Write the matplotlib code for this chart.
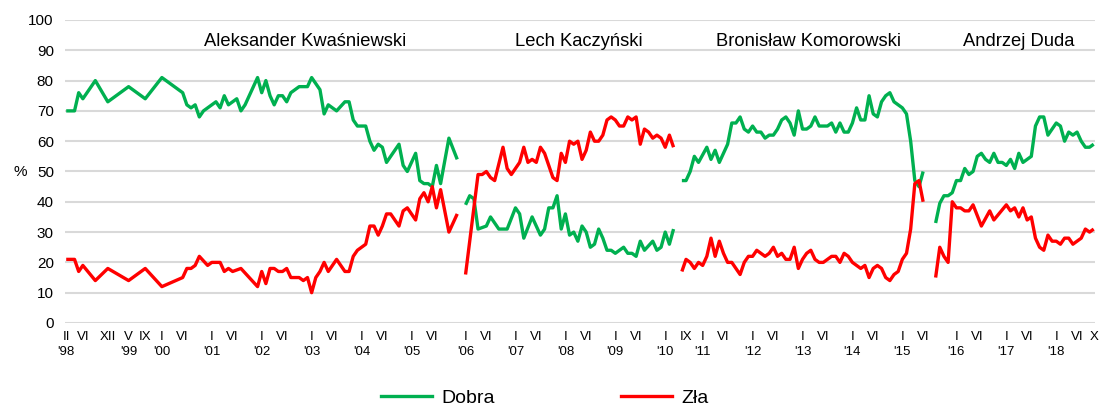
import numpy as np
import matplotlib
matplotlib.use("Agg")
import matplotlib.pyplot as plt
from matplotlib.lines import Line2D

N = None
# ---------------- data (monthly, None = no survey point shown) ----------------
# Aleksander Kwaśniewski: II 1998 .. XII 2005
kwas_dobra = [70, N, 70, 76, 74, N, N, 80, N, N, 73, N, N, N, N, 78, N, N, N, 74,
              N, N, N, 81, N, N, N, N, 76, 72, 71, 72, 68, 70, N, N, 73, 71, 75, 72,
              N, 74, 70, 72, N, N, 81, 76, 80, 75, 72, 75, 75, 73, 76, N, 78, N, 78, 81,
              N, 77, 69, 72, N, 70, N, 73, 73, 67, 65, N, 65, 60, 57, 59, 58, 53, N, N,
              59, 52, 50, N, 56, 47, 46, 46, 45, 52, 46, N, 61, N, 54]
kwas_zla = [21, N, 21, 17, 19, N, N, 14, N, N, 18, N, N, N, N, 14, N, N, N, 18,
            N, N, N, 12, N, N, N, N, 15, 18, 18, 19, 22, N, 19, 20, N, 20, 17, 18,
            17, N, 18, N, N, N, 12, 17, 13, 18, 18, 17, 17, 18, 15, N, 15, 14, 15, 10,
            15, 17, 20, 17, N, 21, N, 17, 17, 22, 24, N, 26, 32, 32, 29, 32, 36, 36, N,
            32, 37, 38, N, 34, 41, 43, 40, 45, 38, 44, N, 30, N, 36]
# Lech Kaczyński: I 2006 .. III 2010
kacz_dobra = [39, 42, 41, 31, N, 32, 35, N, 31, N, 31, N, 38, 36, 28, N, 35, N, 29, 31,
              38, 38, 42, 31, 36, 29, 30, 27, 32, 30, 25, 26, 31, 28, 24, 24, 23, N, 25, 23,
              23, 22, 27, 24, N, 27, 24, 25, 30, 26, 31]
kacz_zla = [16, N, N, 49, 49, 50, 48, 47, N, 58, 51, 49, N, 53, 58, 53, 54, 53, 58, 56,
            N, 48, 47, 56, 53, 60, 59, 60, 54, 57, 63, 60, 60, 62, 67, 68, 67, 65, 65, 68,
            67, 68, 59, 64, 63, 61, 62, 61, 58, 62, 58]
# Bronisław Komorowski: VIII 2010 .. VI 2015
komo_dobra = [47, 47, 50, 55, 53, N, 58, 54, 57, 53, N, 59, 66, 66, 68, 64, 63, 65, 63, 63,
              61, 62, 62, 64, 67, 68, 66, 62, 70, 64, 64, 65, 68, 65, 65, 65, 66, 63, 66, 63,
              63, 66, 71, 67, 67, 75, 69, 68, 73, 75, 76, 73, 72, 71, 69, 60, 47, 45, 50]
komo_zla = [17, 21, 20, 18, 20, 19, 22, 28, 22, 27, 23, 20, 20, 18, 16, 20, 22, 22, 24, 23,
            22, 23, 25, 22, 23, 21, 21, 25, 18, 21, 23, 24, 21, 20, 20, 21, 22, 22, 20, 23,
            22, 20, 19, 18, 19, 15, 18, 19, 18, 15, 14, 16, 17, 21, 23, 31, 46, 47, 40]
# Andrzej Duda: VIII 2015 .. X 2018
duda_dobra = [33, 39.5, 42, 42, 43, 47, 47, 51, 49, 50, 55, 56, 54, 53, 56, 53, 53, 52, 54, 51,
              56, 53, 54, 55, 65, 68, 68, 62, 64, 66, 65, 60, 63, 62, 63, 60, 58, 58, 59]
duda_zla = [15, 25, 22, 20, 40, 38, 38, 37, 37, 39, N, 32, N, 37, 34, N, N, 39, 37, 38,
            35, 38, 34, 35, 28, 25, 24, 29, 27, 27, 26, 28, 28, 26, 27, 28, 31, 30, 31]

presidents = ["Aleksander Kwaśniewski", "Lech Kaczyński", "Bronisław Komorowski", "Andrzej Duda"]
series_names = ["Dobra", "Zła"]

# category axis: one slot per month, blank slots between presidencies
seg_start = [0, 96, 148, 209]
segments = [(kwas_dobra, kwas_zla), (kacz_dobra, kacz_zla),
            (komo_dobra, komo_zla), (duda_dobra, duda_zla)]

tick_slots = [0, 4, 10, 15, 19, 23, 28, 35, 40, 47, 52, 59, 64, 71, 76, 83, 88,
              96, 101, 108, 113, 120, 125, 132, 137, 144, 149, 153, 158, 165, 170,
              177, 182, 189, 194, 201, 206, 214, 219, 226, 231, 238, 243, 247]
tick_labels = ["II\n'98", "VI", "XII", "V\n'99", "IX", "I\n'00", "VI", "I\n'01", "VI",
               "I\n'02", "VI", "I\n'03", "VI", "I\n'04", "VI", "I\n'05", "VI",
               "I\n'06", "VI", "I\n'07", "VI", "I\n'08", "VI", "I\n'09", "VI",
               "I\n'10", "IX", "I\n'11", "VI", "I\n'12", "VI", "I\n'13", "VI",
               "I\n'14", "VI", "I\n'15", "VI", "I\n'16", "VI", "I\n'17", "VI",
               "I\n'18", "VI", "X"]

GREEN = "#00B050"
RED = "#FF0000"

fig = plt.figure(figsize=(11.01, 4.07), dpi=100)
ax = fig.add_axes([0.059, 0.2064, 0.9355, 0.7445])

for start, (dob, zla) in zip(seg_start, segments):
    for vals, col in ((dob, GREEN), (zla, RED)):
        v = np.array([np.nan if x is None else x for x in vals], dtype=float)
        xs = np.arange(start, start + len(v))
        m = ~np.isnan(v)
        ax.plot(xs[m], v[m], color=col, lw=2.4, solid_joinstyle="round",
                solid_capstyle="butt", zorder=3)

ax.set_xlim(-0.3, 247.3)
ax.set_ylim(0, 100)
ax.set_yticks(range(0, 101, 10))
ax.set_yticklabels([str(t) for t in range(0, 101, 10)], fontsize=11,
                   family="Liberation Sans")
ax.set_xticks(tick_slots)
ax.set_xticklabels(tick_labels, fontsize=9.5, family="Liberation Sans",
                   linespacing=1.35, va="top")
ax.tick_params(axis="both", length=0)
ax.tick_params(axis="y", pad=8)
ax.tick_params(axis="x", pad=6)
for s in ax.spines.values():
    s.set_visible(False)
ax.grid(axis="y", color="#d9d9d9", lw=1.5, zorder=0)
ax.set_axisbelow(True)

fig.text(20 / 1101, 1 - 172 / 407, "%", fontsize=11, family="Liberation Sans",
         ha="center", va="center")

title_x = [305, 579, 809, 1019]
for name, px in zip(presidents, title_x):
    fig.text(px / 1101, 1 - 41 / 407, name, fontsize=13.2, family="Liberation Sans",
             ha="center", va="center")

handles = [Line2D([], [], color=GREEN, lw=2.4), Line2D([], [], color=RED, lw=2.4)]
fig.legend(handles, series_names, loc="center", bbox_to_anchor=(0.495, 0.022),
           ncol=2, frameon=False, handlelength=2.6, handletextpad=0.5,
           columnspacing=6.5, prop={"family": "Liberation Sans", "size": 14})

fig.savefig("out.png", dpi=100)
